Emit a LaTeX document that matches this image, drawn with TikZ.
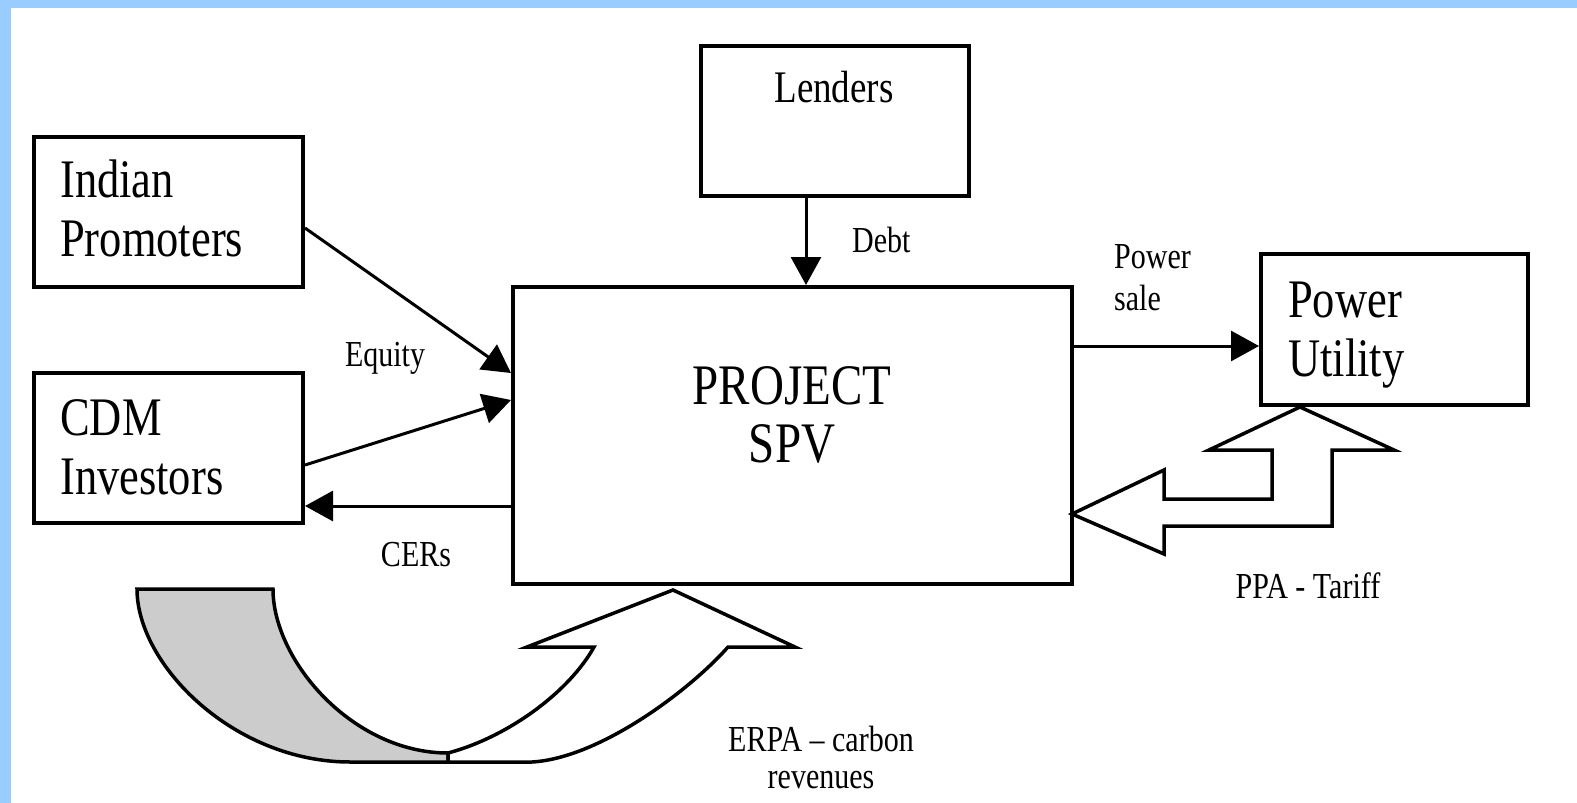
\documentclass[tikz,border=0pt]{standalone}
\usepackage{fontspec}
\setmainfont{Liberation Serif}
\usetikzlibrary{arrows.meta}
\definecolor{framebl}{RGB}{153,204,255}
\begin{document}
\begin{tikzpicture}[x=1pt,y=-1pt,
  box/.style={draw, line width=4pt, inner sep=0pt},
  arr/.style={line width=3pt, -{Triangle[length=28pt,width=30pt]}},
  blk/.style={draw, line width=3.5pt, line join=miter, miter limit=20},
  txt/.style={inner sep=0pt, yscale=1.22},
  big/.style={txt, font=\fontsize{44.5}{48.4}\selectfont, align=left, anchor=north west},
  small/.style={txt, font=\fontsize{30}{34}\selectfont}
]
\useasboundingbox (0,0) rectangle (1577,803);
\fill[white] (0,0) rectangle (1577,803);
% light blue frame (top and left)
\fill[framebl] (0,0) rectangle (1577,8);
\fill[framebl] (0,0) rectangle (11,803);

% boxes
\node[box, minimum width=269pt, minimum height=150pt] (ip) at (168.5,212) {};
\node[box, minimum width=269pt, minimum height=150pt] (cdm) at (168.5,448) {};
\node[box, minimum width=268pt, minimum height=150pt] (len) at (835,121) {};
\node[box, minimum width=559pt, minimum height=297pt] (spv) at (792.5,435.5) {};
\node[box, minimum width=267pt, minimum height=151pt] (pu) at (1394.5,329) {};

% connectors
\draw[arr] ([yshift=-16pt]ip.east) -- ([yshift=62.5pt]spv.west);
\draw[arr] ([yshift=-17pt]cdm.east) -- ([yshift=35.5pt]spv.west);
\draw[arr] ([yshift=-70.5pt]spv.west) -- ([yshift=-58pt]cdm.east);
\draw[arr] ([xshift=-29pt]len.south) -- ([xshift=13.5pt]spv.north);
\draw[arr] ([yshift=89.5pt]spv.east) -- ([yshift=-17pt]pu.west);

% PPA block arrow (two-headed, bent)
\filldraw[blk, fill=white] (1072,514) -- (1164,470) -- (1164,499) -- (1272,499)
  -- (1272,450) -- (1209,450) -- (1300,407) -- (1394,450) -- (1332,450)
  -- (1332,526) -- (1164,526) -- (1164,554) -- cycle;

% ERPA curved up arrow
\filldraw[blk, fill=gray!40] (137,589) -- (273,589)
  .. controls (273,661) and (353,753) .. (448,753) -- (448,762) -- (350,762)
  .. controls (234,762) and (137,665) .. cycle;
\filldraw[blk, fill=white] (448,753) .. controls (508,737) and (569,692) .. (594,647)
  -- (527,647) -- (673,590) -- (795,647) -- (728,647)
  .. controls (690,690) and (600,758) .. (532,762) -- (448,762) -- cycle;

% texts
\node[big] (tip) at (60,160) {Indian\\Promoters};
\node[big] (tcdm) at (60,399) {CDM\\Investors};
\node[big] (tpu) at (1288,282) {Power\\Utility};
\node[txt, font=\fontsize{47}{47.5}\selectfont, align=center, anchor=north] (tspv) at (792,366) {PROJECT\\SPV};
\node[txt, font=\fontsize{37}{40}\selectfont, anchor=base] (tlen) at (834,102) {Lenders};
\node[small, anchor=base west] (tdebt) at (852,252) {Debt};
\node[small, anchor=base] (teq) at (385,366) {Equity};
\node[small, anchor=base] (tcer) at (416,566) {CERs};
\node[txt, font=\fontsize{30}{34.4}\selectfont, align=left, anchor=north west] (tps) at (1114,244) {Power\\sale};
\node[small, anchor=base] (tppa) at (1308,598) {PPA - Tariff};
\node[txt, font=\fontsize{30}{30}\selectfont, align=center, anchor=north] (terpa) at (821,726) {ERPA – carbon\\revenues};
\end{tikzpicture}
\end{document}
